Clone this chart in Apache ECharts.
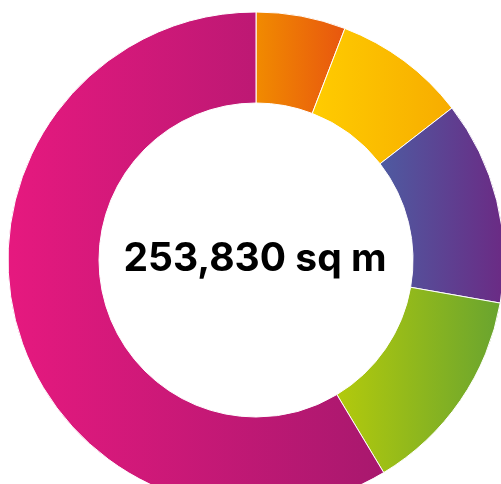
<!DOCTYPE html>
<html>
<head>
<meta charset="utf-8">
<script src="https://cdn.jsdelivr.net/npm/echarts@6/dist/echarts.min.js"></script>
<style>html,body{margin:0;padding:0;background:#fff}#c{width:501px;height:484px}</style>
</head>
<body>
<div id="c"></div>
<script>
const categories = ['Orange', 'Yellow', 'Purple', 'Green', 'Pink'];
const values = [14807, 21999, 33703, 34549, 148772];
const colorsLeft = ['#F18B00', '#FFCC00', '#4E5BA1', '#B3CA0C', '#E6197F'];
const colorsRight = ['#E8560F', '#F7AC00', '#6B2A84', '#69A42F', '#A8186E'];
const centerText = '253,830 sq m';

const chart = echarts.init(document.getElementById('c'), null, {renderer: 'canvas'});
const data = categories.map((name, i) => ({
  name,
  value: values[i],
  itemStyle: {
    color: new echarts.graphic.LinearGradient(0, 0, 1, 0, [
      {offset: 0, color: colorsLeft[i]},
      {offset: 1, color: colorsRight[i]}
    ])
  }
}));
chart.setOption({
  animation: false,
  backgroundColor: '#ffffff',
  series: [{
    type: 'pie',
    center: [256, 260],
    radius: [157, 248],
    startAngle: 90,
    clockwise: true,
    label: {show: false},
    labelLine: {show: false},
    emphasis: {disabled: true},
    itemStyle: {borderColor: '#ffffff', borderWidth: 1},
    data
  }],
  graphic: [{
    type: 'text',
    x: 255,
    y: 259,
    style: {
      text: centerText,
      fill: '#000000',
      font: 'bold 39px Inter',
      textAlign: 'center',
      textVerticalAlign: 'middle'
    }
  }]
});
</script>
</body>
</html>
